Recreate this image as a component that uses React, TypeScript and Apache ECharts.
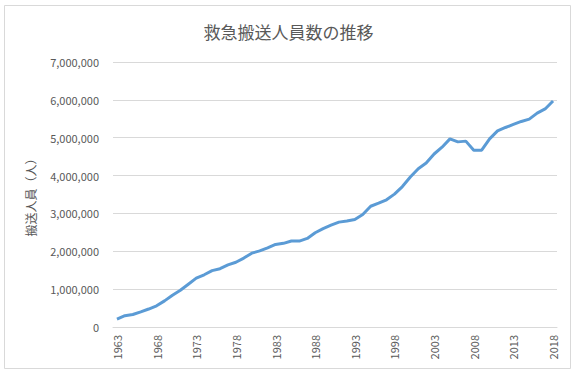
import React, { useEffect, useRef } from "react";
import * as echarts from "echarts";

const years: string[] = [];
for (let y = 1963; y <= 2018; y++) years.push(String(y));

const transported: number[] = [
  210000, 300000, 330000, 400000, 475000, 560000, 690000, 840000, 970000, 1130000,
  1290000, 1380000, 1490000, 1540000, 1640000, 1710000, 1820000, 1950000, 2010000, 2090000,
  2180000, 2210000, 2270000, 2270000, 2340000, 2490000, 2600000, 2690000, 2770000, 2800000,
  2840000, 2970000, 3190000, 3270000, 3360000, 3510000, 3710000, 3960000, 4180000, 4330000,
  4570000, 4750000, 4970000, 4890000, 4910000, 4670000, 4670000, 4970000, 5180000, 5270000,
  5350000, 5430000, 5490000, 5650000, 5760000, 5970000,
];

const title = "救急搬送人員数の推移";
const yName = "搬送人員（人）";

export default function App() {
  const ref = useRef<HTMLDivElement>(null);
  useEffect(() => {
    document.body.style.margin = "0";
    const chart = echarts.init(ref.current!, undefined, { renderer: "svg" });
    const font = "'Noto Sans CJK JP', 'Noto Sans', sans-serif";
    chart.setOption({
      animation: false,
      backgroundColor: "#ffffff",
      textStyle: { fontFamily: font },
      title: {
        text: title,
        left: "center",
        top: 18,
        textStyle: { fontSize: 17, fontWeight: "normal", color: "#595959", fontFamily: font },
      },
      graphic: [
        {
          type: "rect",
          shape: { x: 4.5, y: 5.5, width: 566, height: 363 },
          style: { fill: "none", stroke: "#d9d9d9", lineWidth: 1 },
          silent: true,
        },
      ],
      grid: { left: 113, right: 20, top: 62, bottom: 50 },
      xAxis: {
        type: "category",
        data: years,
        boundaryGap: true,
        axisLine: { lineStyle: { color: "#d9d9d9" } },
        axisTick: { show: false },
        axisLabel: {
          interval: 4,
          rotate: 90,
          color: "#595959",
          fontSize: 11,
          margin: 8,
          fontFamily: font,
        },
      },
      yAxis: {
        type: "value",
        min: 0,
        max: 7000000,
        interval: 1000000,
        name: yName,
        nameLocation: "middle",
        nameRotate: 90,
        nameGap: 77,
        nameTextStyle: { color: "#595959", fontSize: 12, fontFamily: font },
        axisLine: { show: false },
        axisTick: { show: false },
        splitLine: { lineStyle: { color: "#d9d9d9" } },
        axisLabel: {
          color: "#595959",
          fontSize: 11,
          margin: 14,
          fontFamily: font,
          formatter: (v: number) => v.toLocaleString("en-US"),
        },
      },
      series: [
        {
          type: "line",
          data: transported,
          showSymbol: false,
          symbol: "none",
          lineStyle: { color: "#5b9bd5", width: 3 },
          itemStyle: { color: "#5b9bd5" },
        },
      ],
    });
    return () => chart.dispose();
  }, []);
  return <div ref={ref} style={{ width: 577, height: 377 }} />;
}
